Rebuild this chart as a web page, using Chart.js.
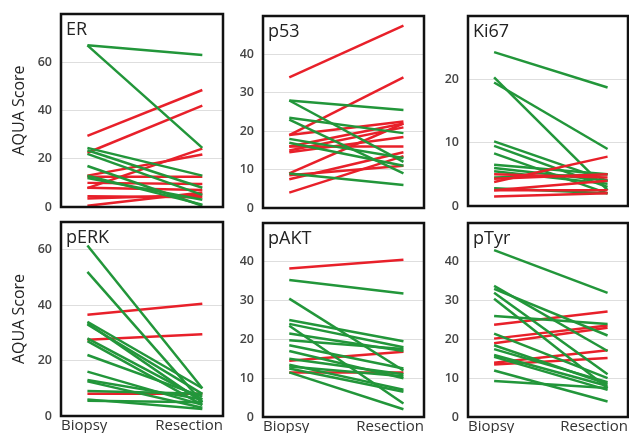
<!DOCTYPE html>
<html>
<head>
<meta charset="utf-8">
<script src="https://cdn.jsdelivr.net/npm/chart.js@4.4.0/dist/chart.umd.min.js"></script>
<style>
  body { margin: 0; background: #fff; }
  #wrap { position: relative; width: 629px; height: 433px; overflow: hidden; }
  .panel { position: absolute; }
</style>
</head>
<body>
<div id="wrap"></div>
<script>
// categories on the x axis
const xLabels = ['Biopsy', 'Resection'];

// ER
const erRedBiopsy = [29.5, 22.5, 7.8, 13, 12.5, 10, 8, 4.5, 3.5, 0.5];
const erRedResection = [48.5, 42, 24.2, 21.8, 12.5, 9.5, 7, 4, 5, 6];
const erGreenBiopsy = [67, 67, 24.5, 23.5, 22, 17, 13, 12];
const erGreenResection = [63, 24.5, 13, 8, 5, 0.5, 1, 3];
const erTicks = [0, 20, 40, 60];

// p53
const p53RedBiopsy = [34, 19, 19, 16, 15, 14.5, 16, 9, 7.5, 4, 8.5];
const p53RedResection = [47.5, 34, 22.5, 22, 21, 18.5, 16, 22, 14.5, 13.5, 11];
const p53GreenBiopsy = [28, 28, 23.5, 23, 18, 17, 9];
const p53GreenResection = [25.5, 12, 19.5, 9, 13, 11, 6];
const p53Ticks = [0, 10, 20, 30, 40];

// Ki67
const kiGreenBiopsy = [24.3, 20.3, 19.5, 10.2, 9.5, 8.3, 6.5, 6, 5.5, 4.5, 2.8];
const kiGreenResection = [18.7, 2.5, 9, 4, 3, 2, 5, 4, 3.5, 5, 2];
const kiRedBiopsy = [3.8, 5, 4.3, 2.5, 1.5, 2.5];
const kiRedResection = [7.8, 4.5, 5, 4, 2, 2.5];
const kiTicks = [0, 10, 20];

// pERK
const erkRedBiopsy = [36.5, 27.5, 8];
const erkRedResection = [40.5, 29.5, 8];
const erkGreenBiopsy = [61.5, 52, 34, 33.5, 33, 28, 27, 22, 16, 13, 12.5, 9, 6, 5.5];
const erkGreenResection = [10, 5, 10, 5, 8, 6, 4, 7, 4, 6, 3, 8, 2.5, 5];
const erkTicks = [0, 20, 40, 60];

// pAKT
const aktRedBiopsy = [38.3, 14.5, 11.5];
const aktRedResection = [40.5, 16.8, 11.5];
const aktGreenBiopsy = [35.3, 30.5, 25, 24, 23.5, 21.5, 19.8, 18.5, 17, 15, 13.5, 13, 12.5, 11.5];
const aktGreenResection = [31.8, 12, 19.5, 18, 3.5, 17, 17.5, 12.5, 10, 11, 7, 10.5, 6.5, 2];
const aktTicks = [0, 10, 20, 30, 40];

// pTyr
const tyrGreenBiopsy = [43, 33.8, 33, 32, 30.5, 26, 21.5, 18.5, 17.5, 16, 15.5, 12, 9.3];
const tyrGreenResection = [32, 17, 21, 11, 7.5, 24, 10, 8.5, 9, 8, 7, 4, 7.5];
const tyrRedBiopsy = [23.8, 20.2, 19, 14, 13.5];
const tyrRedResection = [27.2, 23.6, 23, 17.2, 15.2];
const tyrTicks = [0, 10, 20, 30, 40];

const RED = '#e8202a';
const GREEN = '#22963a';

function makeLines(biopsy, resection, color) {
    return biopsy.map((b, i) => ({
        data: [{ x: 0, y: b }, { x: 1, y: resection[i] }],
        borderColor: color,
        borderWidth: 2.5,
        pointRadius: 0,
        fill: false
    }));
}

// box + panel name
const boxPlugin = {
    id: 'box',
    afterDraw(chart, args, opts) {
        const { ctx, chartArea: a } = chart;
        ctx.save();
        ctx.strokeStyle = '#111';
        ctx.lineWidth = 2.5;
        ctx.strokeRect(a.left, a.top, a.right - a.left, a.bottom - a.top);
        ctx.fillStyle = '#222';
        ctx.font = '18px "Open Sans"';
        ctx.textBaseline = 'alphabetic';
        ctx.fillText(opts.name, a.left + 5, a.top + 21);
        ctx.restore();
    }
};

const panels = [
    { name: 'ER', col: 0, row: 0, max: 80, ticks: erTicks, box: [61, 14, 162, 193],
      sets: [...makeLines(erGreenBiopsy, erGreenResection, GREEN), ...makeLines(erRedBiopsy, erRedResection, RED)] },
    { name: 'p53', col: 1, row: 0, max: 50, ticks: p53Ticks, box: [263, 16, 161, 192],
      sets: [...makeLines(p53GreenBiopsy, p53GreenResection, GREEN), ...makeLines(p53RedBiopsy, p53RedResection, RED)] },
    { name: 'Ki67', col: 2, row: 0, max: 30, ticks: kiTicks, box: [468, 16, 160, 190],
      sets: [...makeLines(kiRedBiopsy, kiRedResection, RED), ...makeLines(kiGreenBiopsy, kiGreenResection, GREEN)] },
    { name: 'pERK', col: 0, row: 1, max: 70, ticks: erkTicks, box: [61, 222, 162, 194],
      sets: [...makeLines(erkGreenBiopsy, erkGreenResection, GREEN), ...makeLines(erkRedBiopsy, erkRedResection, RED)] },
    { name: 'pAKT', col: 1, row: 1, max: 50, ticks: aktTicks, box: [263, 223, 161, 194],
      sets: [...makeLines(aktGreenBiopsy, aktGreenResection, GREEN), ...makeLines(aktRedBiopsy, aktRedResection, RED)] },
    { name: 'pTyr', col: 2, row: 1, max: 50, ticks: tyrTicks, box: [468, 223, 160, 194],
      sets: [...makeLines(tyrGreenBiopsy, tyrGreenResection, GREEN), ...makeLines(tyrRedBiopsy, tyrRedResection, RED)] }
];

const wrap = document.getElementById('wrap');

panels.forEach(p => {
    const [bx, by, bw, bh] = p.box;
    const yw = p.col === 0 ? 61 : 40;
    const xh = p.row === 1 ? 20 : 10;
    const div = document.createElement('div');
    div.className = 'panel';
    div.style.left = (bx - yw) + 'px';
    div.style.top = (by - 2) + 'px';
    div.style.width = (yw + bw + 3) + 'px';
    div.style.height = (2 + bh + xh) + 'px';
    const canvas = document.createElement('canvas');
    div.appendChild(canvas);
    wrap.appendChild(div);

    new Chart(canvas, {
        type: 'line',
        data: { datasets: p.sets },
        plugins: [boxPlugin],
        options: {
            responsive: true,
            maintainAspectRatio: false,
            animation: false,
            layout: { padding: { top: 2, right: 3, left: 0, bottom: 0 } },
            plugins: {
                legend: { display: false },
                tooltip: { enabled: false },
                box: { name: p.name }
            },
            scales: {
                x: {
                    type: 'linear',
                    min: -0.23,
                    max: 1.18,
                    grid: { display: false, drawTicks: false },
                    border: { display: false },
                    afterBuildTicks: s => { s.ticks = [{ value: s.min }, { value: s.max }]; },
                    afterFit: s => { s.height = xh; s.paddingLeft = 0; s.paddingRight = 0; },
                    ticks: {
                        display: p.row === 1,
                        align: 'inner',
                        maxRotation: 0,
                        padding: 1,
                        color: '#333',
                        font: { family: 'Open Sans', size: 15 },
                        callback: (v, i) => xLabels[i]
                    }
                },
                y: {
                    min: 0,
                    max: p.max,
                    border: { display: false },
                    grid: {
                        drawTicks: false,
                        color: c => (c.tick && c.tick.value === 0) ? 'rgba(0,0,0,0)' : 'rgba(0,0,0,0.13)'
                    },
                    afterBuildTicks: s => { s.ticks = p.ticks.map(v => ({ value: v })); },
                    afterFit: s => { s.width = yw; s.paddingTop = 0; s.paddingBottom = 0; },
                    title: {
                        display: p.col === 0,
                        text: 'AQUA Score',
                        color: '#222',
                        font: { family: 'Open Sans', size: 16 },
                        padding: { top: 10, bottom: 0 }
                    },
                    ticks: {
                        padding: 9,
                        color: '#444',
                        font: { family: 'Open Sans', size: 12.5, weight: '600' }
                    }
                }
            }
        }
    });
});
</script>
</body>
</html>
